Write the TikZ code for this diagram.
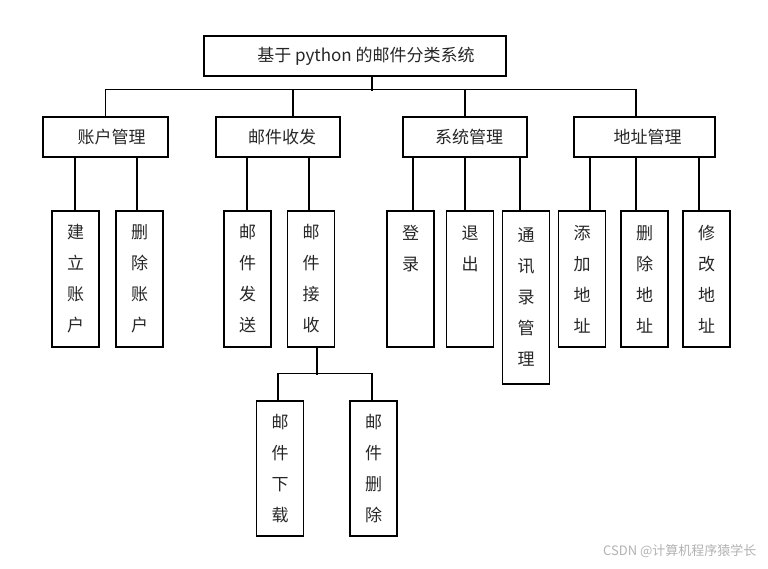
\documentclass[tikz,border=0pt]{standalone}
\usepackage{fontspec}
\setmainfont{Noto Sans CJK SC}
\tikzset{
  x=1pt, y=-1pt,
  box/.style={draw, line width=1.1pt, inner sep=0pt, text=black!85,
    font=\fontsize{17}{20}\selectfont, minimum height=40},
  leaf/.style={draw, line width=1.1pt, inner sep=0pt, text=black!85,
    minimum width=47, minimum height=136, align=center,
    font=\fontsize{17}{31}\selectfont},
  link/.style={line width=1.1pt}
}
\begin{document}
\begin{tikzpicture}
  \useasboundingbox (0,0) rectangle (768,568);
  % root and first level
  \node[box, minimum width=302] (root) at (355,56) {\hspace{22pt}基于 python 的邮件分类系统};
  \node[box, minimum width=125] (acc) at (105.5,137) {\hspace{12pt}账户管理};
  \node[box, minimum width=124] (mail) at (278,137) {\hspace{8pt}邮件收发};
  \node[box, minimum width=124] (sys) at (465,137) {\hspace{8pt}系统管理};
  \node[box, minimum width=141] (addr) at (644.5,137) {\hspace{6pt}地址管理};
  % leaves
  \node[leaf] (newacc) at (75.5,279) {建\\立\\账\\户};
  \node[leaf] (delacc) at (139.5,279) {删\\除\\账\\户};
  \node[leaf] (send) at (247.5,279) {邮\\件\\发\\送};
  \node[leaf] (recv) at (311,279) {邮\\件\\接\\收};
  \node[leaf] (login) at (410.5,279) {登\\录\\~\\~};
  \node[leaf] (logout) at (470,279) {退\\出\\~\\~};
  \node[leaf, minimum height=173] (book) at (526,297.5) {通\\讯\\录\\管\\理};
  \node[leaf] (addadr) at (582,279) {添\\加\\地\\址};
  \node[leaf] (deladr) at (644.5,279) {删\\除\\地\\址};
  \node[leaf] (modadr) at (706.5,279) {修\\改\\地\\址};
  \node[leaf, minimum height=135] (down) at (280,468.5) {邮\\件\\下\\载};
  \node[leaf, minimum height=135] (delmail) at (373.5,468.5) {邮\\件\\删\\除};
  \node[anchor=east, text=black!30, font=\fontsize{13}{15}\selectfont] (mark) at (760,551) {CSDN @计算机程序猿学长};
  \begin{scope}[link]
    \draw ([xshift=17]root.south) -- ++(0,14);
    \draw (acc.north) -- ++(0,-27) -| ([xshift=-8.5]addr.north);
    \draw ([xshift=15]mail.north) -- ++(0,-27);
    \draw (sys.north) -- ++(0,-27);
    \draw ([xshift=-0.5]newacc.north) -- ([xshift=-0.5]newacc.north |- acc.south);
    \draw ([xshift=-2.5]delacc.north) -- ([xshift=-2.5]delacc.north |- acc.south);
    \draw ([xshift=-0.5]send.north) -- ([xshift=-0.5]send.north |- mail.south);
    \draw ([xshift=-2]recv.north) -- ([xshift=-2]recv.north |- mail.south);
    \draw ([xshift=2.5]login.north) -- ([xshift=2.5]login.north |- sys.south);
    \draw ([xshift=-5]logout.north) -- ([xshift=-5]logout.north |- sys.south);
    \draw ([xshift=-6]book.north) -- ([xshift=-6]book.north |- sys.south);
    \draw ([xshift=8]addadr.north) -- ([xshift=8]addadr.north |- addr.south);
    \draw ([xshift=-8.5]deladr.north) -- ([xshift=-8.5]deladr.north |- addr.south);
    \draw ([xshift=-7.5]modadr.north) -- ([xshift=-7.5]modadr.north |- addr.south);
    \draw ([xshift=6]recv.south) -- ++(0,27);
    \draw ([xshift=-2]down.north) -- ++(0,-27) -| ([xshift=-1.5]delmail.north);
  \end{scope}
\end{tikzpicture}
\end{document}
